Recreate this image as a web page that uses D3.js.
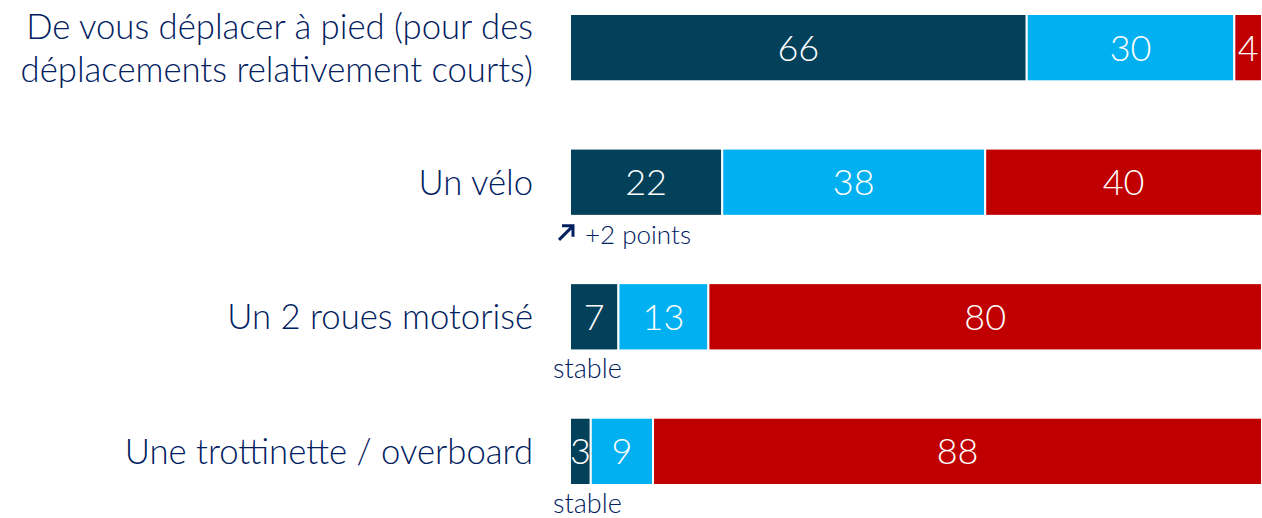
<!DOCTYPE html>
<html>
<head>
<meta charset="utf-8">
<script src="https://cdn.jsdelivr.net/npm/d3@7"></script>
<style>
  body { margin: 0; background: #fff; }
  text { font-family: Lato, "Open Sans", sans-serif; }
</style>
</head>
<body>
<script>
var width = 1262,
    height = 518;

// data
var categories = [
  ["De vous déplacer à pied (pour des", "déplacements relativement courts)"],
  ["Un vélo"],
  ["Un 2 roues motorisé"],
  ["Une trottinette / overboard"]
];
var seriesNames = ["Oui", "Peut-être", "Non"];
var valuesOui = [66, 22, 7, 3];
var valuesPeut = [30, 38, 13, 9];
var valuesNon = [4, 40, 80, 88];
var notes = [null, "+2 points", "stable", "stable"];
var colors = ["#03405a", "#00b0f0", "#c00000"];
var textColor = "#002060";

var rows = categories.map(function(c, i) {
  return { key: i, label: c, Oui: valuesOui[i], "Peut-être": valuesPeut[i], Non: valuesNon[i], note: notes[i] };
});

var svg = d3.select("body").append("svg")
    .attr("width", width)
    .attr("height", height);

var x = d3.scaleLinear().domain([0, 100]).range([570, 1262]);
var y = d3.scaleBand().domain(d3.range(rows.length)).range([14, 485]).paddingInner(0.5).paddingOuter(0);

var stack = d3.stack().keys(seriesNames);
var layers = stack(rows);

var g = svg.selectAll(".layer")
    .data(layers)
  .enter().append("g")
    .attr("class", "layer")
    .attr("fill", function(d, i) { return colors[i]; });

g.selectAll("rect")
    .data(function(d) { return d; })
  .enter().append("rect")
    .attr("x", function(d) { return x(d[0]); })
    .attr("y", function(d, i) { return y(i); })
    .attr("width", function(d) { return x(d[1]) - x(d[0]); })
    .attr("height", y.bandwidth())
    .attr("stroke", "#fff")
    .attr("stroke-width", 2);

g.selectAll("text")
    .data(function(d) { return d; })
  .enter().append("text")
    .attr("x", function(d) { return (x(d[0]) + x(d[1])) / 2; })
    .attr("y", function(d, i) { return y(i) + y.bandwidth() / 2; })
    .attr("dy", "0.36em")
    .attr("text-anchor", "middle")
    .attr("fill", "#fff")
    .style("font-size", "36px")
    .style("font-weight", 300)
    .text(function(d) { return d[1] - d[0]; });

// category labels
var lab = svg.selectAll(".lab")
    .data(rows)
  .enter().append("text")
    .attr("class", "lab")
    .attr("text-anchor", "end")
    .attr("fill", textColor)
    .style("font-size", "34.7px")
    .style("font-weight", 300)
    .attr("y", function(d, i) { return y(i) + y.bandwidth() / 2; });

lab.selectAll("tspan")
    .data(function(d) { return d.label.map(function(t, j) { return { t: t, j: j, n: d.label.length }; }); })
  .enter().append("tspan")
    .attr("x", 533)
    .attr("dy", function(d) { return d.j == 0 ? (0.36 - (d.n - 1) * 0.62) + "em" : "1.24em"; })
    .text(function(d) { return d.t; });

// notes under bars
var nt = svg.selectAll(".note")
    .data(rows.filter(function(d) { return d.note; }))
  .enter().append("g")
    .attr("class", "note")
    .attr("transform", function(d) { return "translate(0," + (y(d.key) + y.bandwidth() + 28) + ")"; });

nt.append("text")
    .attr("x", function(d) { return d.note == "stable" ? 553 : 585; })
    .attr("fill", textColor)
    .style("font-size", function(d) { return d.note == "stable" ? "27px" : "26px"; })
    .style("font-weight", 300)
    .text(function(d) { return d.note; });

nt.filter(function(d) { return d.note != "stable"; })
  .append("path")
    .attr("d", "M559,-4 L573,-18 M562,-18 L573,-18 L573,-7")
    .attr("stroke", textColor)
    .attr("stroke-width", 3)
    .attr("fill", "none");
</script>
</body>
</html>
